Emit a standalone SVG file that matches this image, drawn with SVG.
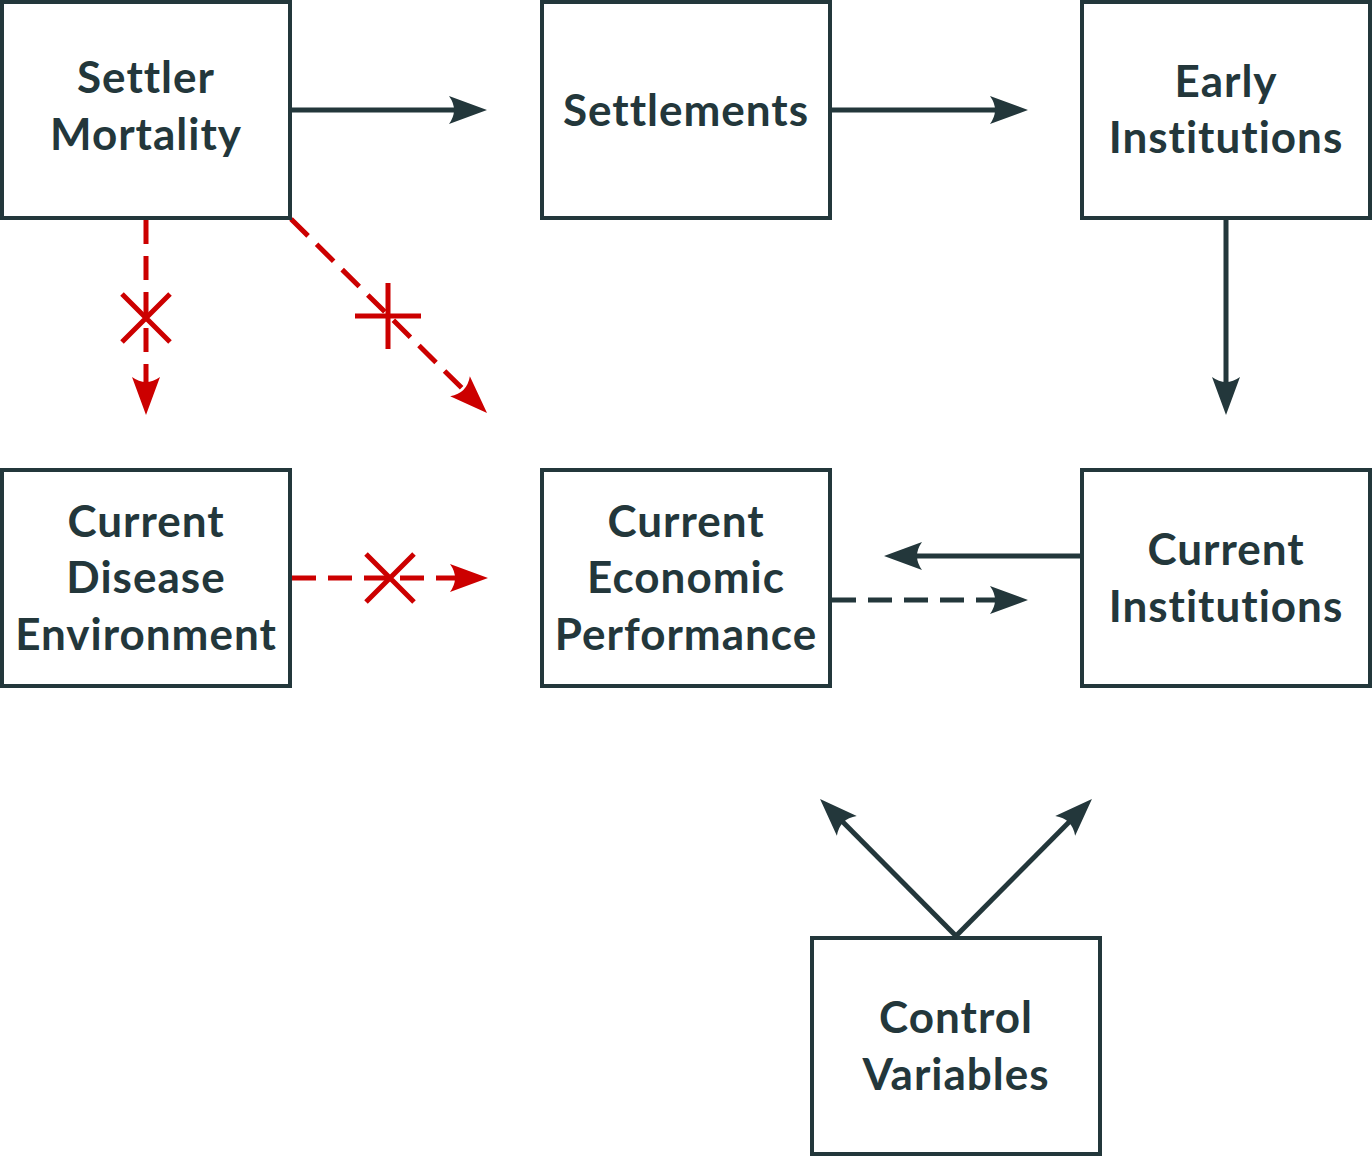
<svg xmlns="http://www.w3.org/2000/svg" width="1372" height="1156" viewBox="0 0 1372 1156">
<style>
.box{fill:#ffffff;stroke:#23373b;stroke-width:4}
.lbl{font-family:Lato,"Open Sans","DejaVu Sans",sans-serif;font-weight:700;font-size:44px;letter-spacing:1px;font-variant-ligatures:none;font-feature-settings:"liga" 0,"clig" 0;fill:#23373b;text-anchor:middle}
.dk{stroke:#23373b;stroke-width:5;fill:none}
.rd{stroke:#cc0000;stroke-width:5;fill:none}
.dash{stroke-dasharray:24 12}
</style>
<defs>
<marker id="ad" markerUnits="userSpaceOnUse" viewBox="-40 -16 42 32" markerWidth="42" markerHeight="32" refX="-12" refY="0" orient="auto">
<path d="M0,0 L-38,-14 Q-28,0 -38,14 Z" fill="#23373b"/>
</marker>
<marker id="ar" markerUnits="userSpaceOnUse" viewBox="-40 -16 42 32" markerWidth="42" markerHeight="32" refX="-12" refY="0" orient="auto">
<path d="M0,0 L-38,-14 Q-28,0 -38,14 Z" fill="#cc0000"/>
</marker>
</defs>
<rect width="1372" height="1156" fill="#ffffff"/>
<g id="connectors">
<line class="dk" x1="292" y1="110" x2="475" y2="110" marker-end="url(#ad)"/>
<line class="dk" x1="832" y1="110" x2="1016" y2="110" marker-end="url(#ad)"/>
<line class="dk" x1="1226" y1="220" x2="1226" y2="403" marker-end="url(#ad)"/>
<line class="dk" x1="1080" y1="556" x2="896" y2="556" marker-end="url(#ad)"/>
<line class="dk dash" x1="832" y1="600" x2="1016" y2="600" marker-end="url(#ad)"/>
<line class="dk" x1="956" y1="936" x2="828.5" y2="807.5" marker-end="url(#ad)"/>
<line class="dk" x1="956" y1="936" x2="1083.5" y2="807.5" marker-end="url(#ad)"/>
<line class="rd dash" x1="146" y1="220" x2="146" y2="403" marker-end="url(#ar)"/>
<line class="rd dash" x1="291" y1="219" x2="478.5" y2="404.5" marker-end="url(#ar)"/>
<line class="rd dash" x1="292" y1="578" x2="476" y2="578" marker-end="url(#ar)"/>
<path class="rd" d="M122,294 L170,342 M170,294 L122,342"/>
<path class="rd" d="M355,316 L421,316 M388,283 L388,349"/>
<path class="rd" d="M366,554 L414,602 M414,554 L366,602"/>
</g>
<g id="settler-mortality">
<rect class="box" x="2" y="2" width="288" height="216"/>
<text class="lbl" x="146" y="93">Settler</text>
<text class="lbl" x="146" y="150">Mortality</text>
</g>
<g id="settlements">
<rect class="box" x="542" y="2" width="288" height="216"/>
<text class="lbl" x="686" y="126">Settlements</text>
</g>
<g id="early-institutions">
<rect class="box" x="1082" y="2" width="288" height="216"/>
<text class="lbl" x="1226" y="97">Early</text>
<text class="lbl" x="1226" y="153">Institutions</text>
</g>
<g id="current-disease-environment">
<rect class="box" x="2" y="470" width="288" height="216"/>
<text class="lbl" x="146" y="537">Current</text>
<text class="lbl" x="146" y="593">Disease</text>
<text class="lbl" x="146" y="650">Environment</text>
</g>
<g id="current-economic-performance">
<rect class="box" x="542" y="470" width="288" height="216"/>
<text class="lbl" x="686" y="537">Current</text>
<text class="lbl" x="686" y="593">Economic</text>
<text class="lbl" x="686" y="650">Performance</text>
</g>
<g id="current-institutions">
<rect class="box" x="1082" y="470" width="288" height="216"/>
<text class="lbl" x="1226" y="565">Current</text>
<text class="lbl" x="1226" y="622">Institutions</text>
</g>
<g id="control-variables">
<rect class="box" x="812" y="938" width="288" height="216"/>
<text class="lbl" x="956" y="1033">Control</text>
<text class="lbl" x="956" y="1090">Variables</text>
</g>
</svg>
